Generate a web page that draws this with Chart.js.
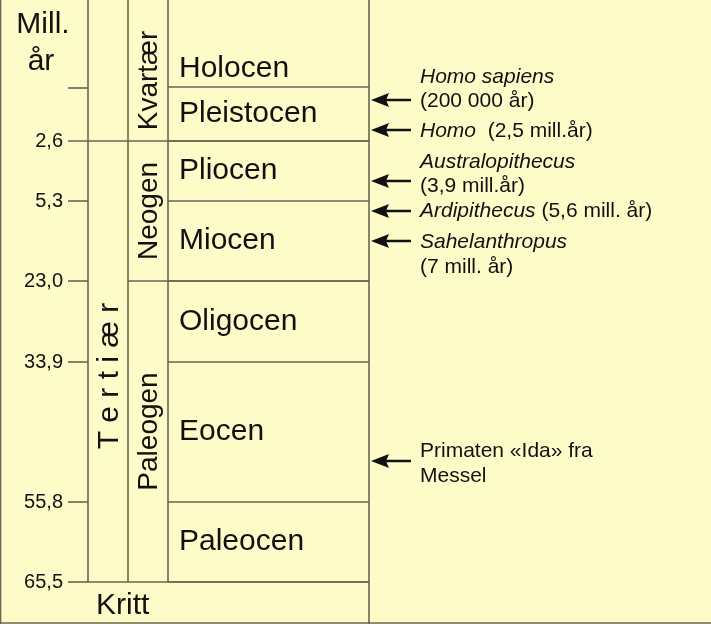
<!DOCTYPE html>
<html>
<head>
<meta charset="utf-8">
<script src="https://cdn.jsdelivr.net/npm/chart.js@4/dist/chart.umd.min.js"></script>
<style>
html,body{margin:0;padding:0;background:#fdfbc8;}
#wrap{width:711px;height:624px;}
</style>
</head>
<body>
<div id="wrap"><canvas id="geo"></canvas></div>
<script>
// schematic units: the diagram is drawn in a 711 x 624 box
const ageLabels = ['2,6', '5,3', '23,0', '33,9', '55,8', '65,5'];
const ageLevels = [141, 201, 281, 362, 502, 582];
const epochs = ['Holocen', 'Pleistocen', 'Pliocen', 'Miocen', 'Oligocen', 'Eocen', 'Paleocen'];
const epochTop = [50, 87, 141, 201, 281, 362, 502];
const epochBottom = [87, 141, 201, 281, 362, 502, 582];
const periods = ['Kvartær', 'Neogen', 'Paleogen'];
const periodTop = [0, 141, 281];
const periodBottom = [141, 281, 582];
const finds = [
	[['Homo sapiens', true]], [['(200 000 år)', false]],
	[['Homo', true], ['  (2,5 mill.år)', false]],
	[['Australopithecus', true]], [['(3,9 mill.år)', false]],
	[['Ardipithecus', true], [' (5,6 mill. år)', false]],
	[['Sahelanthropus', true]], [['(7 mill. år)', false]],
	[['Primaten «Ida» fra', false]], [['Messel', false]]
];
const findTextRows = [77, 101, 131, 162, 186, 211, 242, 267, 451, 476];
const arrowRows = [100, 130, 181, 211, 241, 461];

const colX = [88, 128, 168, 369];
const lineColor = '#6b6450';

// build line segments
let segs = [];
function seg(x1, y1, x2, y2){ segs.push([{x:x1,y:y1},{x:x2,y:y2}]); }
seg(colX[0], 0, colX[0], 582);
seg(colX[1], 0, colX[1], 582);
seg(colX[2], 0, colX[2], 582);
seg(colX[3], 0, colX[3], 624);
seg(68, 88, colX[0], 88);
ageLevels.forEach((a, i) => {
	seg(68, a, i == 0 ? colX[1] : colX[0], a);
});
seg(colX[0], 582, colX[3], 582);
epochBottom.forEach((b) => { seg(colX[2], b, colX[3], b); });
seg(colX[1], 141, colX[3], 141);
seg(colX[1], 281, colX[3], 281);
seg(0.5, 0, 0.5, 624); seg(0, 623, 711, 623);

const datasets = segs.map((s) => ({
	type: 'line', data: s, borderColor: lineColor, borderWidth: 1.6,
	pointRadius: 0, fill: false
}));

const textPlugin = {
	id: 'geoText',
	afterDatasetsDraw(chart){
		const ctx = chart.ctx, X = chart.scales.x, Y = chart.scales.y;
		const px = (v) => X.getPixelForValue(v), py = (v) => Y.getPixelForValue(v);
		ctx.save();
		ctx.fillStyle = '#111';
		ctx.textBaseline = 'middle';
		const sans = '"Liberation Sans", Arial, sans-serif';
		// header
		ctx.textAlign = 'center';
		ctx.font = '30px ' + sans;
		ctx.fillText('Mill.', px(43), py(25));
		ctx.fillText('år', px(41), py(62));
		// ages
		ctx.textAlign = 'right';
		ctx.font = '20px ' + sans;
		ageLabels.forEach((t, i) => ctx.fillText(t, px(63), py(ageLevels[i])));
		// epochs
		ctx.textAlign = 'left';
		ctx.font = '30px ' + sans;
		epochs.forEach((e, i) => ctx.fillText(e, px(179), py((epochTop[i] + epochBottom[i]) / 2)));
		ctx.fillText('Kritt', px(96), py(606));
		// periods rotated
		ctx.font = '28px ' + sans;
		ctx.textAlign = 'center';
		periods.forEach((p, i) => {
			ctx.save();
			ctx.translate(px(148), py((periodTop[i] + periodBottom[i]) / 2 + (i == 0 ? 10 : 0)));
			ctx.rotate(-Math.PI / 2);
			ctx.fillText(p, 0, 1);
			ctx.restore();
		});
		ctx.save();
		ctx.translate(px(109), py(376));
		ctx.rotate(-Math.PI / 2);
		ctx.font = '30px ' + sans;
		ctx.fillText('T e r t i æ r', 0, 1);
		ctx.restore();
		// finds
		ctx.textAlign = 'left';
		finds.forEach((parts, i) => {
			let x = px(420);
			parts.forEach(([t, it]) => {
				ctx.font = (it ? 'italic ' : '') + '21px ' + sans;
				ctx.fillText(t, x, py(findTextRows[i]));
				x += ctx.measureText(t).width;
			});
		});
		// arrows
		ctx.strokeStyle = '#111';
		ctx.lineWidth = 2.5;
		arrowRows.forEach((r) => {
			let y = py(r);
			ctx.beginPath(); ctx.moveTo(px(385), y); ctx.lineTo(px(411), y); ctx.stroke();
			ctx.beginPath(); ctx.moveTo(px(371), y); ctx.lineTo(px(389), y - 7); ctx.lineTo(px(386), y); ctx.lineTo(px(389), y + 7); ctx.closePath(); ctx.fill();
		});
		ctx.restore();
	}
};

new Chart(document.getElementById('geo'), {
	type: 'scatter',
	data: { datasets: datasets },
	options: {
		responsive: true, maintainAspectRatio: false, animation: false,
		layout: { padding: 0 },
		plugins: { legend: { display: false }, tooltip: { enabled: false } },
		scales: {
			x: { type: 'linear', min: 0, max: 711, display: false },
			y: { type: 'linear', min: 0, max: 624, reverse: true, display: false }
		}
	},
	plugins: [textPlugin]
});
</script>
</body>
</html>
